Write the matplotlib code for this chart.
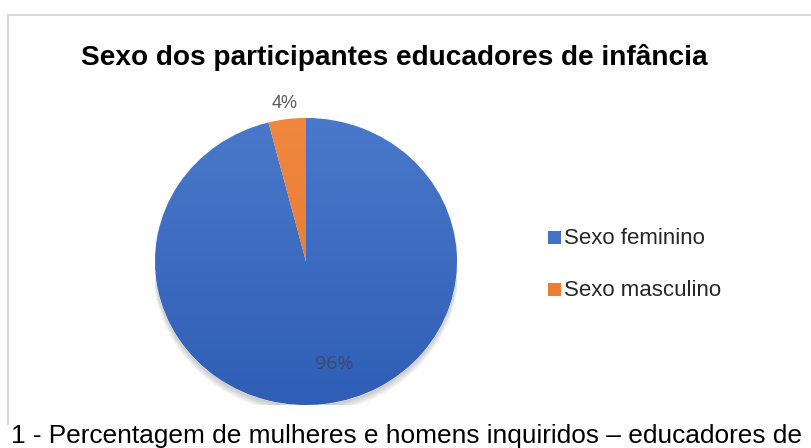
import matplotlib
matplotlib.use("Agg")
import matplotlib.pyplot as plt
from matplotlib.patches import Rectangle, Ellipse
from matplotlib.lines import Line2D
from matplotlib.colors import LinearSegmentedColormap
import numpy as np

categories = ["Sexo feminino", "Sexo masculino"]
values = [96, 4]
pct_labels = ["96%", "4%"]
colors = ["#4472C4", "#ED7D31"]
title = "Sexo dos participantes educadores de infância"
caption = "1 - Percentagem de mulheres e homens inquiridos – educadores de"

W, H = 812, 448
fig = plt.figure(figsize=(W / 100, H / 100), dpi=100)
fig.patch.set_facecolor("white")

def fx(px):
    return px / W

def fy(py):
    return 1 - py / H

# chart border (top and left visible)
fig.add_artist(Line2D([fx(8), fx(812)], [fy(15), fy(15)], transform=fig.transFigure,
                      color="#D9D9D9", linewidth=1.5))
fig.add_artist(Line2D([fx(8), fx(8)], [fy(15), fy(424)], transform=fig.transFigure,
                      color="#D9D9D9", linewidth=1.5))

cx, cy, rx, ry = 306, 261.5, 151, 143.5
ax = fig.add_axes([fx(cx - rx), fy(cy + ry), 2 * rx / W, 2 * ry / H])

# soft shadow
for i in range(4):
    ax.add_patch(Ellipse((0.0, -0.02 - 0.008 * i), 2.0 + 0.01 * i, 2.0 + 0.01 * i,
                         facecolor="black", alpha=0.05, edgecolor="none", zorder=0))

wedges, _ = ax.pie(values, colors=colors, startangle=90, counterclock=False,
                   wedgeprops=dict(linewidth=0.6, edgecolor="white"))
for w in wedges:
    w.set_zorder(2)
ax.set_aspect("auto")
ax.set_xlim(-1, 1)
ax.set_ylim(-1, 1)
ax.axis("off")

# subtle vertical gradient on each wedge (Office style)
grad_maps = [LinearSegmentedColormap.from_list("b", ["#2F5EB6", "#4A78CA"]),
             LinearSegmentedColormap.from_list("o", ["#E5742A", "#F08840"])]
g = np.linspace(0, 1, 256).reshape(-1, 1)
for w, cm in zip(wedges, grad_maps):
    im = ax.imshow(g, cmap=cm, extent=(-1, 1, -1, 1), origin="lower",
                   aspect="auto", zorder=3, interpolation="bilinear")
    im.set_clip_path(w)
ax.set_xlim(-1, 1)
ax.set_ylim(-1, 1)
ax.set_aspect("auto")

# percent labels
label_r = [0.72, 1.11]
label_dx = [0.1, 0.0]
label_size = [14, 13]
label_color = ["#404A5E", "#595959"]
label_family = [["Open Sans", "DejaVu Sans"], ["Liberation Sans", "DejaVu Sans"]]
for w, lab, r, dx, s, c, fam in zip(wedges, pct_labels, label_r, label_dx,
                                     label_size, label_color, label_family):
    ang = np.deg2rad((w.theta1 + w.theta2) / 2)
    ax.text(r * np.cos(ang) + dx, r * np.sin(ang), lab, ha="center", va="center",
            fontsize=s, color=c, family=fam, zorder=5)

fig.text(fx(394), fy(65), title, ha="center", va="baseline",
         fontsize=20.2, fontweight="bold", color="black",
         family=["Liberation Sans", "DejaVu Sans"])

# legend
leg_y = [238, 290]
for cat, col, y in zip(categories, colors, leg_y):
    fig.add_artist(Rectangle((fx(548), fy(y + 6)), 13 / W, 13 / H,
                             transform=fig.transFigure, facecolor=col, edgecolor="none"))
    fig.text(fx(564), fy(y), cat, ha="left", va="center", fontsize=16,
             color="#262626", family=["Liberation Sans", "DejaVu Sans"])

fig.text(fx(11), fy(443), caption, ha="left", va="baseline", fontsize=18.9,
         color="black", family=["Liberation Sans", "DejaVu Sans"])

fig.savefig("out.png", dpi=100, facecolor="white")
